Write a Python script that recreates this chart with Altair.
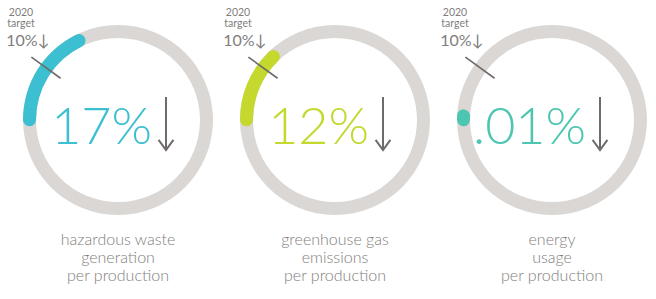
import math
import altair as alt
import pandas as pd

# ---- data ----
categories = [
    "hazardous waste generation per production",
    "greenhouse gas emissions per production",
    "energy usage per production",
]
label_lines = [
    "hazardous waste\ngeneration\nper production",
    "greenhouse gas\nemissions\nper production",
    "energy\nusage\nper production",
]
values = [17, 12, 0.01]
value_labels = ["17%", "12%", ".01%"]
targets = [10, 10, 10]
target_titles = ["2020 target", "2020 target", "2020 target"]
target_labels = ["10%↓", "10%↓", "10%↓"]
colors = ["#3cbfd1", "#c4d82e", "#4dc6b1"]

df = pd.DataFrame({
    "category": categories,
    "label": label_lines,
    "value": values,
    "value_label": value_labels,
    "target": targets,
    "target_title": target_titles,
    "target_label": target_labels,
})

RING = "#dad7d4"
DARK = "#6e6b6a"
TEXT = "#807e7d"

X = alt.X("category:N", axis=None,
          scale=alt.Scale(type="point", domain=categories, range=[118, 552], padding=0))
TS = alt.Scale(domain=[0, 100], range=[3 * math.pi / 2, 7 * math.pi / 2])
C = alt.Color("category:N", scale=alt.Scale(domain=categories, range=colors), legend=None)

base = alt.Chart(df).transform_calculate(ring_start="0", ring_end="100")

ring = base.mark_arc(innerRadius=82, outerRadius=95, color=RING).encode(
    x=X, y=alt.value(120),
    theta=alt.Theta("ring_start:Q", scale=TS, stack=False),
    theta2="ring_end:Q",
)

arc = base.mark_arc(innerRadius=82, outerRadius=95, cornerRadius=6.5,
                    thetaOffset=-0.07, theta2Offset=0.12).encode(
    x=X, y=alt.value(120),
    theta=alt.Theta("ring_start:Q", scale=TS, stack=False),
    theta2="value:Q",
    color=C,
)

tick = base.mark_arc(innerRadius=71, outerRadius=107, stroke=DARK, strokeWidth=1.6,
                     fill=DARK).encode(
    x=X, y=alt.value(120),
    theta=alt.Theta("target:Q", scale=TS, stack=False),
    theta2="target:Q",
)

number = base.mark_text(font="Lato", fontWeight=300, fontSize=52, align="right",
                        baseline="alphabetic", dx=34).encode(
    x=X, y=alt.value(144), text="value_label:N", color=C,
)

ARROW = "M0,-1L0,1M-0.28,0.62L0,1L0.28,0.62"
arrow = base.mark_point(shape=ARROW, size=2809, filled=False, stroke=DARK,
                        strokeWidth=2, opacity=1, xOffset=48).encode(
    x=X, y=alt.value(123.5),
)

ttitle = base.mark_text(font="Lato", fontSize=10.5, lineBreak=" ", lineHeight=11,
                        baseline="middle", color=TEXT, dx=-97).encode(
    x=X, y=alt.value(13), text="target_title:N",
)

tlabel = base.mark_text(font="Lato", fontSize=16, baseline="middle", color=TEXT,
                        dx=-90).encode(
    x=X, y=alt.value(41), text="target_label:N",
)

bottom = base.mark_text(font="Lato", fontWeight=300, fontSize=16, lineBreak="\n",
                        lineHeight=18, baseline="alphabetic", color=TEXT).encode(
    x=X, y=alt.value(245), text="label:N",
)

chart = alt.layer(ring, arc, tick, number, arrow, ttitle, tlabel, bottom).properties(
    width=656, height=299, padding=0
).configure_view(stroke=None)

chart.save("out.html", embed_options={"renderer": "svg", "actions": False})
